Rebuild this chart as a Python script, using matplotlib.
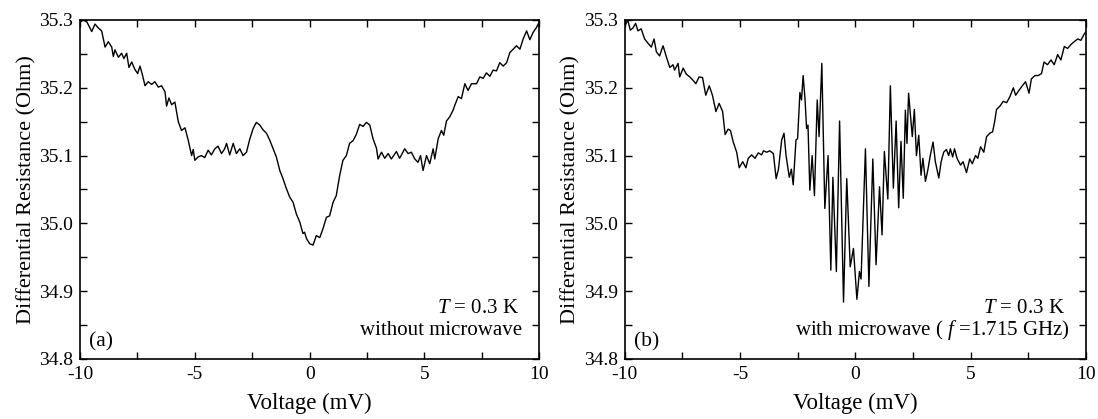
import matplotlib
matplotlib.use('Agg')
from matplotlib import pyplot as plt
from matplotlib.ticker import MultipleLocator, FormatStrFormatter

plt.rcParams['font.family'] = ['Liberation Serif', 'DejaVu Serif']
plt.rcParams['mathtext.fontset'] = 'custom'
plt.rcParams['mathtext.rm'] = 'Liberation Serif'
plt.rcParams['mathtext.it'] = 'Liberation Serif:italic'
plt.rcParams['axes.unicode_minus'] = False

# (a) without microwave
voltage_a = [-10.0, -9.86, -9.7, -9.49, -9.35, -9.2, -9.06, -8.91, -8.77, -8.62, -8.55, -8.48, -8.33, -8.19,
             -8.09, -7.97, -7.87, -7.75, -7.61, -7.49, -7.39, -7.29, -7.17, -7.03, -6.88, -6.74, -6.59, -6.45,
             -6.30, -6.23, -6.13, -6.01, -5.87, -5.72, -5.58, -5.43, -5.29, -5.14, -5.07, -5.0, -4.86, -4.71,
             -4.57, -4.42, -4.28, -4.13, -3.99, -3.84, -3.70, -3.62, -3.48, -3.33, -3.19, -3.04, -2.9, -2.75,
             -2.61, -2.46, -2.32, -2.17, -2.03, -1.88, -1.74, -1.59, -1.45, -1.30, -1.16, -1.01, -0.87, -0.72,
             -0.58, -0.43, -0.29, -0.22, -0.14, 0.0, 0.15, 0.29, 0.44, 0.58, 0.73, 0.87, 1.02, 1.16, 1.31,
             1.45, 1.60, 1.74, 1.89, 2.03, 2.18, 2.33, 2.47, 2.62, 2.76, 2.91, 2.98, 3.13, 3.27, 3.42, 3.56,
             3.78, 3.92, 4.14, 4.29, 4.43, 4.58, 4.72, 4.83, 4.94, 5.09, 5.23, 5.38, 5.45, 5.60, 5.74, 5.84,
             5.96, 6.10, 6.25, 6.32, 6.47, 6.61, 6.76, 6.90, 7.05, 7.27, 7.41, 7.56, 7.70, 7.85, 7.99, 8.14,
             8.28, 8.43, 8.58, 8.72, 8.87, 9.01, 9.16, 9.30, 9.45, 9.59, 9.74, 9.88, 10.0]
resist_a = [35.297, 35.300, 35.297, 35.283, 35.294, 35.288, 35.284, 35.260, 35.268, 35.260, 35.246, 35.256,
            35.245, 35.251, 35.243, 35.251, 35.230, 35.238, 35.227, 35.221, 35.232, 35.220, 35.203, 35.209,
            35.205, 35.209, 35.201, 35.203, 35.194, 35.173, 35.185, 35.175, 35.179, 35.150, 35.137, 35.141,
            35.123, 35.100, 35.109, 35.093, 35.098, 35.100, 35.097, 35.108, 35.101, 35.110, 35.114, 35.103,
            35.110, 35.118, 35.101, 35.118, 35.103, 35.110, 35.100, 35.105, 35.124, 35.140, 35.149, 35.145,
            35.138, 35.133, 35.123, 35.110, 35.098, 35.078, 35.066, 35.051, 35.039, 35.031, 35.014, 35.002,
            34.985, 34.987, 34.978, 34.970, 34.968, 34.982, 34.979, 34.992, 35.009, 35.011, 35.031, 35.041,
            35.071, 35.093, 35.100, 35.118, 35.122, 35.131, 35.146, 35.143, 35.149, 35.145, 35.125, 35.111,
            35.095, 35.105, 35.096, 35.103, 35.095, 35.106, 35.096, 35.110, 35.103, 35.105, 35.095, 35.090,
            35.100, 35.078, 35.100, 35.088, 35.110, 35.095, 35.125, 35.137, 35.130, 35.151, 35.157, 35.167,
            35.174, 35.187, 35.184, 35.206, 35.196, 35.206, 35.206, 35.216, 35.214, 35.222, 35.217, 35.226,
            35.225, 35.237, 35.232, 35.237, 35.252, 35.257, 35.262, 35.257, 35.272, 35.284, 35.271, 35.282,
            35.289, 35.297]

# (b) with microwave, f = 1.715 GHz
voltage_b = [-10.0, -9.86, -9.75, -9.64, -9.52, -9.42, -9.28, -9.13, -8.99, -8.84, -8.72, -8.62, -8.48, -8.33,
             -8.19, -8.04, -7.90, -7.83, -7.68, -7.61, -7.46, -7.32, -7.17, -7.03, -6.91, -6.77, -6.62, -6.48,
             -6.33, -6.19, -6.04, -5.90, -5.75, -5.64, -5.51, -5.41, -5.29, -5.14, -5.03, -4.88, -4.74, -4.64,
             -4.49, -4.35, -4.20, -4.06, -3.98, -3.84, -3.70, -3.55, -3.43, -3.33, -3.19, -3.09, -3.00, -2.86,
             -2.77, -2.69, -2.57, -2.50, -2.40, -2.33, -2.26, -2.18, -2.11, -2.05, -1.97, -1.87, -1.77, -1.65,
             -1.57, -1.45, -1.32, -1.18, -1.06, -0.97, -0.82, -0.68, -0.51, -0.37, -0.22, -0.08, 0.07, 0.18,
             0.25, 0.44, 0.59, 0.76, 0.90, 1.05, 1.16, 1.26, 1.41, 1.52, 1.65, 1.77, 1.88, 1.98, 2.08, 2.17,
             2.24, 2.31, 2.47, 2.56, 2.65, 2.75, 2.85, 2.93, 3.04, 3.14, 3.25, 3.37, 3.47, 3.62, 3.72, 3.83,
             3.95, 4.05, 4.12, 4.22, 4.30, 4.41, 4.56, 4.67, 4.82, 4.96, 5.07, 5.21, 5.31, 5.43, 5.57, 5.69,
             5.83, 5.95, 6.04, 6.12, 6.27, 6.41, 6.56, 6.70, 6.85, 6.95, 7.09, 7.24, 7.38, 7.53, 7.63, 7.78,
             7.92, 8.07, 8.18, 8.33, 8.48, 8.62, 8.77, 8.91, 9.06, 9.20, 9.35, 9.49, 9.64, 9.78, 9.90, 10.0]
resist_b = [35.290, 35.300, 35.285, 35.288, 35.295, 35.284, 35.287, 35.272, 35.266, 35.260, 35.272, 35.253,
            35.247, 35.262, 35.246, 35.230, 35.234, 35.226, 35.236, 35.216, 35.229, 35.220, 35.216, 35.211,
            35.206, 35.216, 35.215, 35.189, 35.203, 35.189, 35.165, 35.177, 35.165, 35.131, 35.139, 35.137,
            35.120, 35.105, 35.082, 35.091, 35.082, 35.096, 35.101, 35.096, 35.104, 35.101, 35.107, 35.105,
            35.107, 35.103, 35.066, 35.080, 35.123, 35.133, 35.100, 35.068, 35.080, 35.057, 35.123, 35.125,
            35.193, 35.182, 35.218, 35.184, 35.140, 35.145, 35.049, 35.100, 35.041, 35.182, 35.128, 35.236,
            35.022, 35.100, 34.931, 35.068, 34.929, 35.151, 34.884, 35.066, 34.936, 34.963, 34.888, 34.929,
            34.918, 35.110, 34.907, 35.095, 34.939, 35.054, 34.983, 35.106, 35.036, 35.203, 35.052, 35.151,
            35.023, 35.121, 35.037, 35.167, 35.118, 35.192, 35.128, 35.168, 35.100, 35.130, 35.071, 35.096,
            35.062, 35.078, 35.100, 35.120, 35.091, 35.067, 35.091, 35.105, 35.109, 35.100, 35.110, 35.098,
            35.110, 35.096, 35.086, 35.091, 35.075, 35.095, 35.088, 35.100, 35.096, 35.113, 35.105, 35.128,
            35.133, 35.135, 35.150, 35.168, 35.173, 35.180, 35.178, 35.187, 35.200, 35.189, 35.196, 35.203,
            35.209, 35.192, 35.213, 35.218, 35.218, 35.221, 35.238, 35.234, 35.241, 35.234, 35.249, 35.241,
            35.261, 35.258, 35.264, 35.268, 35.272, 35.270, 35.278, 35.283]

fig = plt.figure(figsize=(10.98, 4.19), dpi=100)
ax_a = fig.add_axes([0.0729, 0.1432, 0.4182, 0.8091])
ax_b = fig.add_axes([0.5688, 0.1432, 0.4203, 0.8091])

for ax, v, r, tag in [(ax_a, voltage_a, resist_a, '(a)'), (ax_b, voltage_b, resist_b, '(b)')]:
    ax.plot(v, r, color='black', lw=1.0)
    ax.set_xlim(-10, 10)
    ax.set_ylim(34.8, 35.3)
    ax.xaxis.set_major_locator(MultipleLocator(5))
    ax.xaxis.set_minor_locator(MultipleLocator(2.5))
    ax.yaxis.set_major_locator(MultipleLocator(0.1))
    ax.yaxis.set_minor_locator(MultipleLocator(0.05))
    ax.yaxis.set_major_formatter(FormatStrFormatter('%.1f'))
    ax.tick_params(which='both', direction='in', top=True, right=True, length=5, width=1.0,
                   labelsize=14)
    ax.tick_params(axis='x', pad=5)
    ax.tick_params(axis='y', pad=5)
    for s in ax.spines.values():
        s.set_linewidth(1.2)
    ax.set_xlabel('Voltage (mV)', fontsize=16.5, labelpad=7)
    ax.set_ylabel('Differential Resistance (Ohm)', fontsize=16, labelpad=2)
    ax.text(0.02, 0.05, tag, transform=ax.transAxes, fontsize=15.5, ha='left', va='center')
    ax.text(0.955, 0.15, r'$T$ = 0.3 K', transform=ax.transAxes, fontsize=15, ha='right', va='center')

ax_a.text(0.962, 0.085, 'without microwave', transform=ax_a.transAxes, fontsize=15, ha='right', va='center')
ax_b.text(0.965, 0.085, r'with microwave ( $f$ =1.715 GHz)', transform=ax_b.transAxes, fontsize=15,
          ha='right', va='center')

plt.savefig('out.png', dpi=100)
